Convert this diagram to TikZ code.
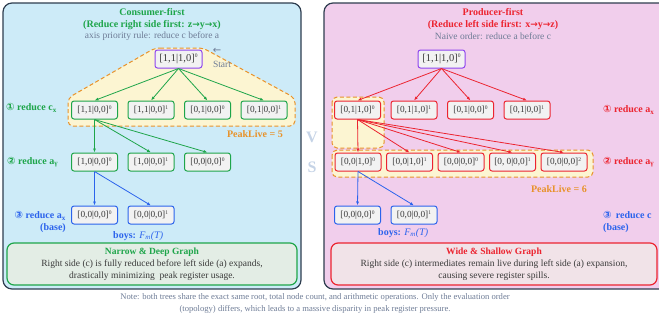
\documentclass[tikz,border=0pt]{standalone}
\usepackage{fontspec}
\setmainfont{Liberation Serif}
\newfontfamily\symf{DejaVu Sans}
\usepackage{tikz}
\usetikzlibrary{shapes, arrows, arrows.meta, positioning}
\definecolor{leftbg}{HTML}{CDEBF8}
\definecolor{rightbg}{HTML}{F1CEEC}
\definecolor{panelline}{HTML}{2E3D4F}
\definecolor{cgreen}{HTML}{1EA54A}
\definecolor{cred}{HTML}{EC2430}
\definecolor{cblue}{HTML}{2B63EC}
\definecolor{cpurple}{HTML}{8E44EE}
\definecolor{corange}{HTML}{E8922A}
\definecolor{peakfill}{HTML}{FCF5D2}
\definecolor{nodefill}{HTML}{F2F2F2}
\definecolor{textgrey}{HTML}{3A3A3A}
\definecolor{notegrey}{HTML}{6E7C96}
\definecolor{greenbox}{HTML}{E3EDE5}
\definecolor{redbox}{HTML}{F1E3E8}
\definecolor{vsgrey}{HTML}{C5D3E6}
\newcommand{\regs}[2]{[#1]\raisebox{0.85ex}{\fontsize{5.5}{6}\selectfont #2}}
\tikzstyle{state} = [rectangle, draw, rounded corners=2.5pt, fill=nodefill,
    line width=1pt, text=textgrey, minimum width=46pt, minimum height=18pt,
    inner sep=1pt, font=\fontsize{9.3}{10}\selectfont]
\tikzstyle{greenstate} = [state, draw=cgreen]
\tikzstyle{redstate} = [state, draw=cred]
\tikzstyle{bluestate} = [state, draw=cblue]
\tikzstyle{rootstate} = [state, draw=cpurple, minimum width=47pt,
    font=\fontsize{10.5}{12}\selectfont]
\tikzstyle{gline} = [draw, cgreen, line width=0.8pt, -{Latex[length=4pt, width=3pt]}]
\tikzstyle{rline} = [draw, cred, line width=0.8pt, -{Latex[length=4pt, width=3pt]}]
\tikzstyle{bline} = [draw, cblue, line width=0.8pt, -{Latex[length=4pt, width=3pt]}]
\tikzstyle{peak} = [draw=corange, dash pattern=on 4pt off 2.5pt, line width=1pt,
    fill=peakfill, rounded corners=5pt]
\tikzstyle{panel} = [draw=panelline, line width=1.2pt, rounded corners=9pt]
\tikzstyle{lvl} = [font=\fontsize{10}{12}\selectfont\bfseries, inner sep=0pt]
\tikzstyle{title} = [font=\fontsize{10}{12.5}\selectfont\bfseries, align=center]
\tikzstyle{summary} = [rectangle, rounded corners=7pt, line width=1.2pt, align=center,
    font=\fontsize{9.5}{12}\selectfont, text=textgrey, minimum height=42pt]

\begin{document}
\begin{tikzpicture}[x=1pt, y=-1pt, node distance=56.5pt]
    \useasboundingbox (0,0) rectangle (659,322);
    \clip (0,0) rectangle (659,322);
    % Panels
    \draw [panel, fill=leftbg] (3,3) rectangle (301,289);
    \draw [panel, fill=rightbg] (324,3) rectangle (690,289);
    \node [font=\fontsize{16}{30}\selectfont\bfseries, text=vsgrey, align=center] (vs) at (312,152) {V\\S};
    % Peak regions
    \draw [peak] (155,48) -- (203,48) -- (295,98) -- (295,126) -- (68,126) -- (68,98) -- cycle;
    \draw [peak] (332,97) rectangle (384,148);
    \draw [peak] (332,150) rectangle (593,177);
    % Titles
    \node [title, text=cgreen] (ltitle) at (152,19) {Consumer-first\\(Reduce right side first: z{\symf\small→}y{\symf\small→}x)};
    \node [text=notegrey, font=\fontsize{9.5}{12}\selectfont] (lrule) at (152,36) {axis priority rule: reduce c before a};
    \node [title, text=cred] (rtitle) at (493,19) {Producer-first\\(Reduce left side first: x{\symf\small→}y{\symf\small→}z)};
    \node [text=notegrey, font=\fontsize{9.5}{12}\selectfont] (rrule) at (493,36) {Naive order: reduce a before c};
    % Left tree
    \node [rootstate] (lroot) at (178.5,59) {\regs{1,1|1,0}{0}};
    \node [text=notegrey, font=\fontsize{10}{12}\selectfont, inner sep=0pt] (startarrow) at (217,51) {\symf ←};
    \node [text=notegrey, font=\fontsize{9.5}{12}\selectfont, inner sep=0pt] (start) at (222,64) {Start};
    \node [greenstate] (la1) at (94.5,110) {\regs{1,1|0,0}{0}};
    \node [greenstate, right of=la1] (la2) {\regs{1,1|0,0}{1}};
    \node [greenstate, right of=la2] (la3) {\regs{0,1|0,0}{0}};
    \node [greenstate, right of=la3] (la4) {\regs{0,1|0,0}{1}};
    \node [greenstate] (lb1) at (94.5,162) {\regs{1,0|0,0}{0}};
    \node [greenstate, right of=lb1] (lb2) {\regs{1,0|0,0}{1}};
    \node [greenstate, right of=lb2] (lb3) {\regs{0,0|0,0}{0}};
    \node [bluestate] (lc1) at (94.5,215) {\regs{0,0|0,0}{0}};
    \node [bluestate, right of=lc1] (lc2) {\regs{0,0|0,0}{1}};
    \node [lvl, text=cgreen, anchor=west] (lstep1) at (6,108) {{\symf ①} reduce c\textsubscript{x}};
    \node [lvl, text=cgreen, anchor=west] (lstep2) at (7,162) {{\symf ②} reduce a\textsubscript{γ}};
    \node [lvl, text=cblue, anchor=east, align=right] (lstep3) at (66,222) {{\symf ③} reduce a\textsubscript{x}\\(base)};
    \node [lvl, text=corange, anchor=east] (lpeak) at (283,134) {PeakLive = 5};
    \node [text=cblue, font=\fontsize{10}{12}\selectfont, anchor=west, inner sep=0pt] (lboys) at (113,236) {\textbf{boys:} \textit{F\textsubscript{m}(T)}};
    % Right tree
    \node [rootstate] (rroot) at (441.5,59) {\regs{1,1|1,0}{0}};
    \node [redstate] (ra1) at (357.5,110) {\regs{0,1|1,0}{0}};
    \node [redstate, right of=ra1] (ra2) {\regs{0,1|1,0}{1}};
    \node [redstate, right of=ra2] (ra3) {\regs{0,1|0,0}{0}};
    \node [redstate, right of=ra3] (ra4) {\regs{0,1|0,0}{1}};
    \node [redstate] (rb1) at (358,162) {\regs{0,0|1,0}{0}};
    \node [redstate, right of=rb1, node distance=51.5pt] (rb2) {\regs{0,0|1,0}{1}};
    \node [redstate, right of=rb2, node distance=51.5pt] (rb3) {\regs{0,0|0,0}{0}};
    \node [redstate, right of=rb3, node distance=51.5pt] (rb4) {\regs{0, 0|0,0}{1}};
    \node [redstate, right of=rb4, node distance=51.5pt] (rb5) {\regs{0,0|0,0}{2}};
    \node [bluestate] (rc1) at (357.5,215) {\regs{0,0|0,0}{0}};
    \node [bluestate, right of=rc1] (rc2) {\regs{0,0|0,0}{1}};
    \node [lvl, text=cred, anchor=west] (rstep1) at (603,110) {{\symf ①} reduce a\textsubscript{x}};
    \node [lvl, text=cred, anchor=west] (rstep2) at (603,162) {{\symf ②} reduce a\textsubscript{γ}};
    \node [lvl, text=cblue, anchor=west, align=left] (rstep3) at (603,222) {{\symf ③}\, reduce c\\(base)};
    \node [lvl, text=corange, anchor=east] (rpeak) at (587,189) {PeakLive = 6};
    \node [text=cblue, font=\fontsize{10}{12}\selectfont, anchor=west, inner sep=0pt] (rboys) at (378,233) {\textbf{boys:} \textit{F\textsubscript{m}(T)}};
    % Summaries
    \node [summary, draw=cgreen, fill=greenbox, minimum width=290pt] (lsum) at (152,264)
        {\textcolor{cgreen}{\textbf{Narrow \& Deep Graph}}\\Right side (c) is fully reduced before left side (a) expands,\\drastically minimizing\ \ peak register usage.};
    \node [summary, draw=cred, fill=redbox, minimum width=326pt] (rsum) at (494,264)
        {\textcolor{cred}{\textbf{Wide \& Shallow Graph}}\\Right side (c) intermediates remain live during left side (a) expansion,\\causing severe register spills.};
    \node [text=notegrey, font=\fontsize{8.6}{12}\selectfont, align=center] (note) at (315,303)
        {Note: both trees share the exact same root, total node count, and arithmetic operations. Only the evaluation order\\(topology) differs, which leads to a massive disparity in peak register pressure.};
    % Edges
    \foreach \n in {la1, la2, la3, la4} \path [gline] (lroot.south) -- (\n.north);
    \foreach \n in {lb1, lb2, lb3} \path [gline] (la1.south) -- (\n.north);
    \foreach \n in {lc1, lc2} \path [bline] (lb1.south) -- (\n.north);
    \foreach \n in {ra1, ra2, ra3, ra4} \path [rline] (rroot.south) -- (\n.north);
    \foreach \n in {rb1, rb2, rb3, rb4, rb5} \path [rline] (ra1.south) -- (\n.north);
    \foreach \n in {rc1, rc2} \path [bline] (rb1.south) -- (\n.north);
\end{tikzpicture}
\end{document}
